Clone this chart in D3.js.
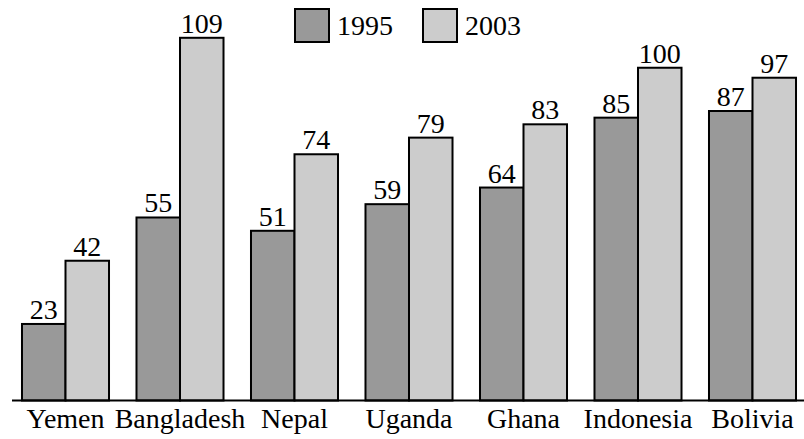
<!DOCTYPE html>
<html><head><meta charset="utf-8">
<script src="https://cdn.jsdelivr.net/npm/d3@7"></script>
<style>body{margin:0;background:#fff}svg{display:block}</style>
</head><body>
<script>
const categories = ["Yemen","Bangladesh","Nepal","Uganda","Ghana","Indonesia","Bolivia"];
const seriesNames = ["1995","2003"];
const values1995 = [23,55,51,59,64,85,87];
const values2003 = [42,109,74,79,83,100,97];
const colors = ["#999999","#cccccc"];

const W=804,H=439;
const FONT='"Liberation Serif"';
const FS="28px";
const svg=d3.select("body").append("svg").attr("width",W).attr("height",H);

const x0=d3.scaleBand().domain(categories).range([8.25,809.75]).paddingInner(0.24).paddingOuter(0.12);
const x1=d3.scaleBand().domain(seriesNames).range([0,x0.bandwidth()]);
const y=d3.scaleLinear().domain([0,109]).range([400.5,37.8]);

const data=categories.map((c,i)=>({c,vals:[values1995[i],values2003[i]]}));
const g=svg.append("g");
const grp=g.selectAll("g.grp").data(data).join("g").attr("transform",d=>`translate(${x0(d.c)},0)`);
grp.selectAll("rect").data(d=>d.vals.map((v,j)=>({v,s:seriesNames[j],j})))
  .join("rect")
  .attr("x",d=>x1(d.s)).attr("width",x1.bandwidth())
  .attr("y",d=>y(d.v)).attr("height",d=>y(0)-y(d.v))
  .attr("fill",d=>colors[d.j]).attr("stroke","#000").attr("stroke-width",2);
grp.selectAll("text").data(d=>d.vals.map((v,j)=>({v,s:seriesNames[j]})))
  .join("text")
  .attr("x",d=>x1(d.s)+x1.bandwidth()/2).attr("y",d=>y(d.v)-5)
  .attr("text-anchor","middle")
  .style("font-family",FONT).style("font-size",FS).style("fill","#000")
  .text(d=>d.v);

// axis
const xAxis=d3.axisBottom(x0).tickSize(0).tickPadding(8);
const ax=svg.append("g").attr("transform",`translate(0,${y(0)})`).call(xAxis);
ax.select(".domain").attr("d",`M12,0H${W}`).attr("stroke","#000").attr("stroke-width",2);
ax.selectAll("text").style("font-family",FONT).style("font-size",FS).style("fill","#000").attr("dy","0.71em");

// legend
const legX=[295,423];
const leg=svg.append("g").selectAll("g").data(seriesNames).join("g")
  .attr("transform",(d,i)=>`translate(${legX[i]},9)`);
leg.append("rect").attr("width",34).attr("height",33).attr("fill",(d,i)=>colors[i]).attr("stroke","#000").attr("stroke-width",2);
leg.append("text").attr("x",42).attr("y",26)
  .style("font-family",FONT).style("font-size",FS).style("fill","#000").text(d=>d);
</script>
</body></html>
